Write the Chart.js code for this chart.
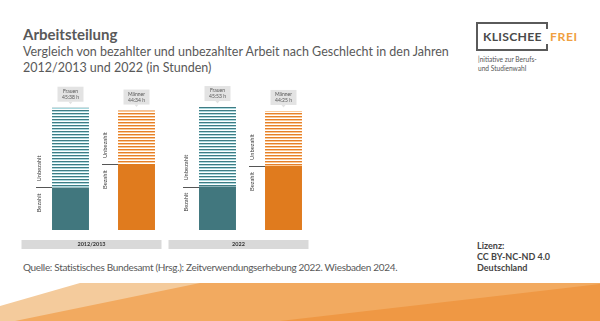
<!DOCTYPE html>
<html lang="de">
<head>
<meta charset="utf-8">
<script src="https://cdn.jsdelivr.net/npm/chart.js@4.4.1/dist/chart.umd.min.js"></script>
<style>
  html, body { margin: 0; padding: 0; background: #fff; }
  body { width: 600px; height: 321px; position: relative; overflow: hidden; font-family: Lato, "Open Sans", sans-serif; color: #595959; }
  .abs { position: absolute; white-space: nowrap; }
  #title { left: 23px; top: 25px; font-size: 15px; font-weight: bold; line-height: 18px; }
  #subtitle { left: 23px; top: 44px; font-size: 12.5px; line-height: 16px; }
  #source { left: 23px; top: 259px; font-size: 10px; letter-spacing: -0.32px; line-height: 16px; }
  #licence { left: 477px; top: 239.5px; font-size: 9px; font-weight: bold; line-height: 11px; color: #444; }
  #chartWrap { position: absolute; left: 0; top: 80px; width: 345px; height: 175px; }
  #logo { position: absolute; left: 470px; top: 15px; }
  #band { position: absolute; left: 0; top: 280px; }
</style>
</head>
<body>
<div id="title" class="abs">Arbeitsteilung</div>
<div id="subtitle" class="abs">Vergleich von bezahlter und unbezahlter Arbeit nach Geschlecht in den Jahren<br>2012/2013 und 2022 (in Stunden)</div>
<div id="source" class="abs">Quelle: Statistisches Bundesamt (Hrsg.): Zeitverwendungserhebung 2022. Wiesbaden 2024.</div>
<div id="licence" class="abs">Lizenz:<br>CC BY-NC-ND 4.0<br>Deutschland</div>

<svg id="logo" width="125" height="62" xmlns="http://www.w3.org/2000/svg">
  <path d="M77 14 V8 H7 V35 H77 V29" fill="none" stroke="#5a5a5a" stroke-width="2"/>
  <text x="13" y="26" font-family="Lato, sans-serif" font-weight="bold" font-size="12.2" fill="#4a4a4a" letter-spacing="0.3">KLISCHEE</text>
  <text x="80" y="26" font-family="Lato, sans-serif" font-weight="bold" font-size="12.2" fill="#f0a040" letter-spacing="0.6">FREI</text>
  <text x="8" y="47" font-family="Lato, sans-serif" font-size="6.6" fill="#555">|nitiative zur Berufs-</text>
  <text x="8" y="56" font-family="Lato, sans-serif" font-size="6.6" fill="#555">und Studienwahl</text>
</svg>

<svg id="band" width="600" height="41" xmlns="http://www.w3.org/2000/svg">
  <polygon points="0,26 80,3 600,3 600,41 0,41" fill="#f4cb9c"/>
  <polygon points="15,41 200,3 600,3 600,41" fill="#f2aa60"/>
  <polygon points="280,41 600,4 600,41" fill="#ef9844"/>
</svg>

<div id="chartWrap"><canvas id="chart" width="345" height="175"></canvas></div>

<script>
// Jahre (Kategorien)
const periods = ['2012/2013', '2022'];
// Stunden pro Woche (dezimal)
const frauenBezahlt = [15.9, 16.2];
const frauenUnbezahlt = [29.73, 29.68];
const maennerBezahlt = [24.6, 23.9];
const maennerUnbezahlt = [19.97, 20.52];
// Beschriftungen der Summen
const frauenSumme = ['45:38 h', '45:53 h'];
const maennerSumme = ['44:34 h', '44:25 h'];

function stripes(colors) {
  const c = document.createElement('canvas');
  c.width = 1;
  c.height = colors.length;
  const g = c.getContext('2d');
  colors.forEach(function(col, i) {
    g.fillStyle = col;
    g.fillRect(0, i, 1, 1);
  });
  return g.createPattern(c, 'repeat');
}

const tealStripes = stripes(['#3f7b83', '#a9d9df', '#ffffff']);
const orangeStripes = stripes(['#e5802a', '#fbc995', '#ffffff']);

const annotations = {
  id: 'annotations',
  afterDatasetsDraw: function(chart) {
    const ctx = chart.ctx;
    const xs = chart.scales.x;
    const area = chart.chartArea;

    // Jahresbalken unten
    periods.forEach(function(p, i) {
      const cx = xs.getPixelForValue(i);
      ctx.fillStyle = '#d9d9d9';
      ctx.fillRect(cx - 82, area.bottom + 10, 140, 9);
      ctx.fillStyle = '#333';
      ctx.font = 'bold 5.5px Lato, sans-serif';
      ctx.textAlign = 'center';
      ctx.textBaseline = 'middle';
      ctx.fillText(p, cx - 12, area.bottom + 14.5);
    });

    [[1, 'Frauen', frauenSumme], [3, 'Männer', maennerSumme]].forEach(function(s) {
      const meta = chart.getDatasetMeta(s[0]);
      meta.data.forEach(function(bar, i) {
        const left = bar.x - bar.width / 2;
        const top = bar.y;
        const boundary = bar.base;

        // Summenkasten
        const bw = 26, bh = 15, bb = top - 6;
        ctx.fillStyle = '#e3e3e3';
        ctx.fillRect(bar.x - bw / 2, bb - bh, bw, bh);
        ctx.beginPath();
        ctx.moveTo(bar.x - 2, bb);
        ctx.lineTo(bar.x + 2, bb);
        ctx.lineTo(bar.x, bb + 2.5);
        ctx.closePath();
        ctx.fill();
        ctx.fillStyle = '#555';
        ctx.font = '5px Lato, sans-serif';
        ctx.textAlign = 'center';
        ctx.textBaseline = 'middle';
        ctx.fillText(s[1], bar.x, bb - 10.5);
        ctx.fillText(s[2][i], bar.x, bb - 4.5);

        // Trennlinie
        ctx.strokeStyle = '#555';
        ctx.lineWidth = 1;
        ctx.beginPath();
        ctx.moveTo(left - 16, Math.round(boundary) + 0.5);
        ctx.lineTo(left, Math.round(boundary) + 0.5);
        ctx.stroke();

        // gedrehte Beschriftung
        ctx.fillStyle = '#3a3a3a';
        ctx.font = '5.8px Lato, sans-serif';
        ctx.textBaseline = 'middle';
        ctx.save();
        ctx.translate(left - 13, boundary - 6);
        ctx.rotate(-Math.PI / 2);
        ctx.textAlign = 'left';
        ctx.fillText('Unbezahlt', 0, 0);
        ctx.restore();
        ctx.save();
        ctx.translate(left - 13, boundary + 6);
        ctx.rotate(-Math.PI / 2);
        ctx.textAlign = 'right';
        ctx.fillText('Bezahlt', 0, 0);
        ctx.restore();
      });
    });
  }
};

new Chart(document.getElementById('chart'), {
  type: 'bar',
  data: {
    labels: periods,
    datasets: [
      { label: 'Frauen bezahlt', data: frauenBezahlt, stack: 'F', backgroundColor: '#41777e' },
      { label: 'Frauen unbezahlt', data: frauenUnbezahlt, stack: 'F', backgroundColor: tealStripes },
      { label: 'Männer bezahlt', data: maennerBezahlt, stack: 'M', backgroundColor: '#e07b1e' },
      { label: 'Männer unbezahlt', data: maennerUnbezahlt, stack: 'M', backgroundColor: orangeStripes }
    ]
  },
  options: {
    responsive: false,
    devicePixelRatio: 1,
    animation: false,
    categoryPercentage: 0.898,
    barPercentage: 0.56,
    layout: { padding: { left: 30, right: 21, top: 16, bottom: 25 } },
    plugins: { legend: { display: false }, tooltip: { enabled: false } },
    scales: {
      x: { stacked: true, display: false },
      y: { stacked: true, display: false, min: 0, max: 50 }
    }
  },
  plugins: [annotations]
});
</script>
</body>
</html>
